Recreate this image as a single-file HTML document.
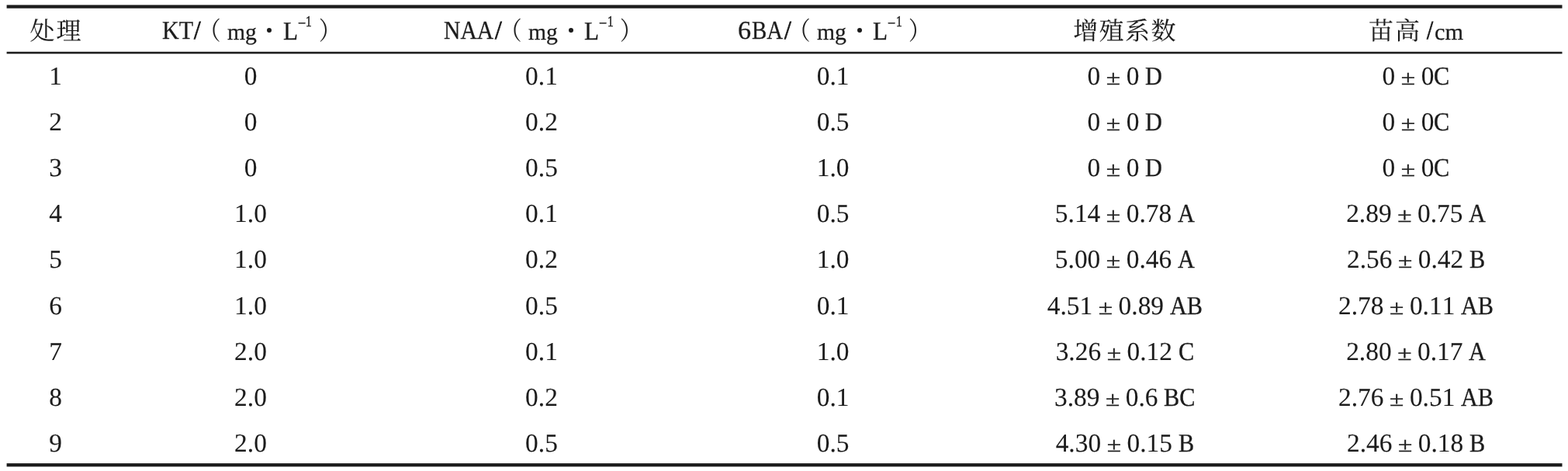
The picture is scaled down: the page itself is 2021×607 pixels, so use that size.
<!DOCTYPE html>
<html lang="zh"><head><meta charset="utf-8"><title>Table</title>
<style>
html,body{margin:0;padding:0;background:#fff;}
body{width:2021px;height:607px;position:relative;overflow:hidden;will-change:transform;font-family:"Liberation Serif",serif;color:#1c1c1c;}
.t{position:absolute;white-space:pre;line-height:40px;font-family:"Liberation Serif",serif;font-kerning:none;font-variant-ligatures:none;text-rendering:geometricPrecision;-webkit-text-stroke:0.3px #1c1c1c;}
.c{font-family:"Liberation Serif","Noto Serif CJK SC",serif;font-size:32px;-webkit-text-stroke-width:0.1px;}
.g{position:absolute;overflow:visible;fill:#1c1c1c;stroke:#1c1c1c;stroke-width:0.3px;}
.g path{vector-effect:non-scaling-stroke;}
.l{position:absolute;}
.pm{display:inline-block;transform:scale(1,0.8);-webkit-text-stroke-width:0.45px;}
</style></head><body>
<svg class="g" style="left:0;top:0;stroke:none" width="2021" height="607" viewBox="0 0 2021 607"><rect x="8.6" y="6.4" width="2004.90" height="4.30"/><rect x="8.6" y="66.7" width="2004.90" height="2.60"/><rect x="8.6" y="597.1" width="2004.90" height="4.30"/></svg>
<span class="t c" style="left:38.50px;top:19.70px;letter-spacing:1.9px;">处理</span>
<span class="t c" style="left:1383.20px;top:20.00px;letter-spacing:1.4px;">增殖系数</span>
<span class="t c" style="left:1764.00px;top:20.20px;letter-spacing:2px;">苗高</span>
<span class="t" style="left:1839.30px;top:20.00px;font-size:33.4px;transform:scale(0.8729,1.0000);transform-origin:0 30px;-webkit-text-stroke-width:0.9px;">/</span>
<span class="t" style="left:1848.85px;top:21.00px;font-size:33.4px;transform:scale(0.9075,0.8850);transform-origin:0 30px;">cm</span>
<span class="t" style="left:209.43px;top:20.00px;font-size:33.4px;transform:scale(0.8999,1.0000);transform-origin:0 30px;">KT</span>
<span class="t" style="left:250.00px;top:20.00px;font-size:33.4px;transform:scale(0.9268,1.0000);transform-origin:0 30px;-webkit-text-stroke-width:0.9px;">/</span>
<span class="t c" style="left:255.50px;top:19.80px;transform:scale(0.89,1);transform-origin:0 30px;">（</span>
<span class="t" style="left:292.58px;top:21.00px;font-size:33.4px;transform:scale(0.8877,0.8850);transform-origin:0 30px;">mg</span>
<div class="l" style="left:344.00px;top:36.20px;width:6.2px;height:6.2px;border-radius:50%;background:#1c1c1c"></div>
<span class="t" style="left:364.60px;top:21.00px;font-size:33.4px;transform:scale(0.9350,1.0000);transform-origin:0 30px;">L</span>
<span class="t" style="left:383.80px;top:11.00px;font-size:19px;transform:scale(0.9501,1.0000);transform-origin:0 25px;-webkit-text-stroke-width:0.5px;">−</span>
<span class="t" style="left:394.27px;top:9.00px;font-size:19.6px;transform:scale(0.7800,1.0000);transform-origin:0 25px;-webkit-text-stroke-width:0.5px;">1</span>
<span class="t c" style="left:410.90px;top:20.20px;transform:scale(0.89,1);transform-origin:0 30px;">）</span>
<span class="t" style="left:572.25px;top:20.00px;font-size:33.4px;transform:scale(0.8868,1.0000);transform-origin:0 30px;">NAA</span>
<span class="t" style="left:638.30px;top:20.00px;font-size:33.4px;transform:scale(0.9375,1.0000);transform-origin:0 30px;-webkit-text-stroke-width:0.9px;">/</span>
<span class="t c" style="left:644.00px;top:19.80px;transform:scale(0.89,1);transform-origin:0 30px;">（</span>
<span class="t" style="left:681.08px;top:21.00px;font-size:33.4px;transform:scale(0.8877,0.8850);transform-origin:0 30px;">mg</span>
<div class="l" style="left:732.50px;top:36.20px;width:6.2px;height:6.2px;border-radius:50%;background:#1c1c1c"></div>
<span class="t" style="left:753.10px;top:21.00px;font-size:33.4px;transform:scale(0.9350,1.0000);transform-origin:0 30px;">L</span>
<span class="t" style="left:772.30px;top:11.00px;font-size:19px;transform:scale(0.9501,1.0000);transform-origin:0 25px;-webkit-text-stroke-width:0.5px;">−</span>
<span class="t" style="left:782.77px;top:9.00px;font-size:19.6px;transform:scale(0.7800,1.0000);transform-origin:0 25px;-webkit-text-stroke-width:0.5px;">1</span>
<span class="t c" style="left:799.40px;top:20.20px;transform:scale(0.89,1);transform-origin:0 30px;">）</span>
<span class="t" style="left:950.83px;top:20.00px;font-size:33.4px;transform:scale(1.0231,1.0000);transform-origin:0 30px;">6</span>
<span class="t" style="left:968.57px;top:20.00px;font-size:33.4px;transform:scale(0.8652,1.0000);transform-origin:0 30px;">BA</span>
<span class="t" style="left:1010.50px;top:20.00px;font-size:33.4px;transform:scale(0.9375,1.0000);transform-origin:0 30px;-webkit-text-stroke-width:0.9px;">/</span>
<span class="t c" style="left:1016.00px;top:19.80px;transform:scale(0.89,1);transform-origin:0 30px;">（</span>
<span class="t" style="left:1053.08px;top:21.00px;font-size:33.4px;transform:scale(0.8877,0.8850);transform-origin:0 30px;">mg</span>
<div class="l" style="left:1104.50px;top:36.20px;width:6.2px;height:6.2px;border-radius:50%;background:#1c1c1c"></div>
<span class="t" style="left:1125.10px;top:21.00px;font-size:33.4px;transform:scale(0.9350,1.0000);transform-origin:0 30px;">L</span>
<span class="t" style="left:1144.30px;top:11.00px;font-size:19px;transform:scale(0.9501,1.0000);transform-origin:0 25px;-webkit-text-stroke-width:0.5px;">−</span>
<span class="t" style="left:1154.77px;top:9.00px;font-size:19.6px;transform:scale(0.7800,1.0000);transform-origin:0 25px;-webkit-text-stroke-width:0.5px;">1</span>
<span class="t c" style="left:1171.40px;top:20.20px;transform:scale(0.89,1);transform-origin:0 30px;">）</span>
<span class="t" style="left:63.35px;top:79.00px;font-size:33.4px;-webkit-text-stroke-width:0.1px;">1</span>
<span class="t" style="left:314.65px;top:79.00px;font-size:33.4px;-webkit-text-stroke-width:0.1px;">0</span>
<span class="t" style="left:677.12px;top:79.00px;font-size:33.4px;-webkit-text-stroke-width:0.1px;">0.1</span>
<span class="t" style="left:1052.72px;top:79.00px;font-size:33.4px;-webkit-text-stroke-width:0.1px;">0.1</span>
<span class="t" style="left:1401.60px;top:79.00px;font-size:33.4px;word-spacing:-0.800px;-webkit-text-stroke-width:0.1px;">0 <span class="pm" style="transform-origin:50% 30px">±</span> 0 </span>
<span class="t" style="left:1475.98px;top:79.00px;font-size:33.4px;transform:scale(0.9050,1.0000);transform-origin:0 30px;-webkit-text-stroke-width:0.35px;">D</span>
<span class="t" style="left:1781.50px;top:79.00px;font-size:33.4px;word-spacing:-0.800px;-webkit-text-stroke-width:0.1px;">0 <span class="pm" style="transform-origin:50% 30px">±</span> 0</span>
<span class="t" style="left:1848.33px;top:79.00px;font-size:33.4px;transform:scale(0.9050,1.0000);transform-origin:0 30px;-webkit-text-stroke-width:0.35px;">C</span>
<span class="t" style="left:63.35px;top:138.00px;font-size:33.4px;-webkit-text-stroke-width:0.1px;">2</span>
<span class="t" style="left:314.65px;top:138.00px;font-size:33.4px;-webkit-text-stroke-width:0.1px;">0</span>
<span class="t" style="left:677.12px;top:138.00px;font-size:33.4px;-webkit-text-stroke-width:0.1px;">0.2</span>
<span class="t" style="left:1052.72px;top:138.00px;font-size:33.4px;-webkit-text-stroke-width:0.1px;">0.5</span>
<span class="t" style="left:1401.60px;top:138.00px;font-size:33.4px;word-spacing:-0.800px;-webkit-text-stroke-width:0.1px;">0 <span class="pm" style="transform-origin:50% 30px">±</span> 0 </span>
<span class="t" style="left:1475.98px;top:138.00px;font-size:33.4px;transform:scale(0.9050,1.0000);transform-origin:0 30px;-webkit-text-stroke-width:0.35px;">D</span>
<span class="t" style="left:1781.50px;top:138.00px;font-size:33.4px;word-spacing:-0.800px;-webkit-text-stroke-width:0.1px;">0 <span class="pm" style="transform-origin:50% 30px">±</span> 0</span>
<span class="t" style="left:1848.33px;top:138.00px;font-size:33.4px;transform:scale(0.9050,1.0000);transform-origin:0 30px;-webkit-text-stroke-width:0.35px;">C</span>
<span class="t" style="left:63.35px;top:197.00px;font-size:33.4px;-webkit-text-stroke-width:0.1px;">3</span>
<span class="t" style="left:314.65px;top:197.00px;font-size:33.4px;-webkit-text-stroke-width:0.1px;">0</span>
<span class="t" style="left:677.12px;top:197.00px;font-size:33.4px;-webkit-text-stroke-width:0.1px;">0.5</span>
<span class="t" style="left:1052.72px;top:197.00px;font-size:33.4px;-webkit-text-stroke-width:0.1px;">1.0</span>
<span class="t" style="left:1401.60px;top:197.00px;font-size:33.4px;word-spacing:-0.800px;-webkit-text-stroke-width:0.1px;">0 <span class="pm" style="transform-origin:50% 30px">±</span> 0 </span>
<span class="t" style="left:1475.98px;top:197.00px;font-size:33.4px;transform:scale(0.9050,1.0000);transform-origin:0 30px;-webkit-text-stroke-width:0.35px;">D</span>
<span class="t" style="left:1781.50px;top:197.00px;font-size:33.4px;word-spacing:-0.800px;-webkit-text-stroke-width:0.1px;">0 <span class="pm" style="transform-origin:50% 30px">±</span> 0</span>
<span class="t" style="left:1848.33px;top:197.00px;font-size:33.4px;transform:scale(0.9050,1.0000);transform-origin:0 30px;-webkit-text-stroke-width:0.35px;">C</span>
<span class="t" style="left:63.35px;top:256.00px;font-size:33.4px;-webkit-text-stroke-width:0.1px;">4</span>
<span class="t" style="left:302.12px;top:256.00px;font-size:33.4px;-webkit-text-stroke-width:0.1px;">1.0</span>
<span class="t" style="left:677.12px;top:256.00px;font-size:33.4px;-webkit-text-stroke-width:0.1px;">0.1</span>
<span class="t" style="left:1052.72px;top:256.00px;font-size:33.4px;-webkit-text-stroke-width:0.1px;">0.5</span>
<span class="t" style="left:1359.85px;top:256.00px;font-size:33.4px;word-spacing:-0.800px;-webkit-text-stroke-width:0.1px;">5.14 <span class="pm" style="transform-origin:50% 30px">±</span> 0.78 </span>
<span class="t" style="left:1517.73px;top:256.00px;font-size:33.4px;transform:scale(0.9050,1.0000);transform-origin:0 30px;-webkit-text-stroke-width:0.35px;">A</span>
<span class="t" style="left:1735.15px;top:256.00px;font-size:33.4px;word-spacing:-0.800px;-webkit-text-stroke-width:0.1px;">2.89 <span class="pm" style="transform-origin:50% 30px">±</span> 0.75 </span>
<span class="t" style="left:1893.03px;top:256.00px;font-size:33.4px;transform:scale(0.9050,1.0000);transform-origin:0 30px;-webkit-text-stroke-width:0.35px;">A</span>
<span class="t" style="left:63.35px;top:315.00px;font-size:33.4px;-webkit-text-stroke-width:0.1px;">5</span>
<span class="t" style="left:302.12px;top:315.00px;font-size:33.4px;-webkit-text-stroke-width:0.1px;">1.0</span>
<span class="t" style="left:677.12px;top:315.00px;font-size:33.4px;-webkit-text-stroke-width:0.1px;">0.2</span>
<span class="t" style="left:1052.72px;top:315.00px;font-size:33.4px;-webkit-text-stroke-width:0.1px;">1.0</span>
<span class="t" style="left:1359.85px;top:315.00px;font-size:33.4px;word-spacing:-0.800px;-webkit-text-stroke-width:0.1px;">5.00 <span class="pm" style="transform-origin:50% 30px">±</span> 0.46 </span>
<span class="t" style="left:1517.73px;top:315.00px;font-size:33.4px;transform:scale(0.9050,1.0000);transform-origin:0 30px;-webkit-text-stroke-width:0.35px;">A</span>
<span class="t" style="left:1735.98px;top:315.00px;font-size:33.4px;word-spacing:-0.800px;-webkit-text-stroke-width:0.1px;">2.56 <span class="pm" style="transform-origin:50% 30px">±</span> 0.42 </span>
<span class="t" style="left:1893.86px;top:315.00px;font-size:33.4px;transform:scale(0.9050,1.0000);transform-origin:0 30px;-webkit-text-stroke-width:0.35px;">B</span>
<span class="t" style="left:63.35px;top:375.00px;font-size:33.4px;-webkit-text-stroke-width:0.1px;">6</span>
<span class="t" style="left:302.12px;top:375.00px;font-size:33.4px;-webkit-text-stroke-width:0.1px;">1.0</span>
<span class="t" style="left:677.12px;top:375.00px;font-size:33.4px;-webkit-text-stroke-width:0.1px;">0.5</span>
<span class="t" style="left:1052.72px;top:375.00px;font-size:33.4px;-webkit-text-stroke-width:0.1px;">0.1</span>
<span class="t" style="left:1349.76px;top:375.00px;font-size:33.4px;word-spacing:-0.800px;-webkit-text-stroke-width:0.1px;">4.51 <span class="pm" style="transform-origin:50% 30px">±</span> 0.89 </span>
<span class="t" style="left:1507.65px;top:375.00px;font-size:33.4px;transform:scale(0.9050,1.0000);transform-origin:0 30px;-webkit-text-stroke-width:0.35px;">AB</span>
<span class="t" style="left:1725.06px;top:375.00px;font-size:33.4px;word-spacing:-0.800px;-webkit-text-stroke-width:0.1px;">2.78 <span class="pm" style="transform-origin:50% 30px">±</span> 0.11 </span>
<span class="t" style="left:1882.95px;top:375.00px;font-size:33.4px;transform:scale(0.9050,1.0000);transform-origin:0 30px;-webkit-text-stroke-width:0.35px;">AB</span>
<span class="t" style="left:63.35px;top:434.00px;font-size:33.4px;-webkit-text-stroke-width:0.1px;">7</span>
<span class="t" style="left:302.12px;top:434.00px;font-size:33.4px;-webkit-text-stroke-width:0.1px;">2.0</span>
<span class="t" style="left:677.12px;top:434.00px;font-size:33.4px;-webkit-text-stroke-width:0.1px;">0.1</span>
<span class="t" style="left:1052.72px;top:434.00px;font-size:33.4px;-webkit-text-stroke-width:0.1px;">1.0</span>
<span class="t" style="left:1360.68px;top:434.00px;font-size:33.4px;word-spacing:-0.800px;-webkit-text-stroke-width:0.1px;">3.26 <span class="pm" style="transform-origin:50% 30px">±</span> 0.12 </span>
<span class="t" style="left:1518.56px;top:434.00px;font-size:33.4px;transform:scale(0.9050,1.0000);transform-origin:0 30px;-webkit-text-stroke-width:0.35px;">C</span>
<span class="t" style="left:1735.15px;top:434.00px;font-size:33.4px;word-spacing:-0.800px;-webkit-text-stroke-width:0.1px;">2.80 <span class="pm" style="transform-origin:50% 30px">±</span> 0.17 </span>
<span class="t" style="left:1893.03px;top:434.00px;font-size:33.4px;transform:scale(0.9050,1.0000);transform-origin:0 30px;-webkit-text-stroke-width:0.35px;">A</span>
<span class="t" style="left:63.35px;top:493.00px;font-size:33.4px;-webkit-text-stroke-width:0.1px;">8</span>
<span class="t" style="left:302.12px;top:493.00px;font-size:33.4px;-webkit-text-stroke-width:0.1px;">2.0</span>
<span class="t" style="left:677.12px;top:493.00px;font-size:33.4px;-webkit-text-stroke-width:0.1px;">0.2</span>
<span class="t" style="left:1052.72px;top:493.00px;font-size:33.4px;-webkit-text-stroke-width:0.1px;">0.1</span>
<span class="t" style="left:1358.95px;top:493.00px;font-size:33.4px;word-spacing:-0.800px;-webkit-text-stroke-width:0.1px;">3.89 <span class="pm" style="transform-origin:50% 30px">±</span> 0.6 </span>
<span class="t" style="left:1500.13px;top:493.00px;font-size:33.4px;transform:scale(0.9050,1.0000);transform-origin:0 30px;-webkit-text-stroke-width:0.35px;">BC</span>
<span class="t" style="left:1725.06px;top:493.00px;font-size:33.4px;word-spacing:-0.800px;-webkit-text-stroke-width:0.1px;">2.76 <span class="pm" style="transform-origin:50% 30px">±</span> 0.51 </span>
<span class="t" style="left:1882.95px;top:493.00px;font-size:33.4px;transform:scale(0.9050,1.0000);transform-origin:0 30px;-webkit-text-stroke-width:0.35px;">AB</span>
<span class="t" style="left:63.35px;top:552.00px;font-size:33.4px;-webkit-text-stroke-width:0.1px;">9</span>
<span class="t" style="left:302.12px;top:552.00px;font-size:33.4px;-webkit-text-stroke-width:0.1px;">2.0</span>
<span class="t" style="left:677.12px;top:552.00px;font-size:33.4px;-webkit-text-stroke-width:0.1px;">0.5</span>
<span class="t" style="left:1052.72px;top:552.00px;font-size:33.4px;-webkit-text-stroke-width:0.1px;">0.5</span>
<span class="t" style="left:1360.68px;top:552.00px;font-size:33.4px;word-spacing:-0.800px;-webkit-text-stroke-width:0.1px;">4.30 <span class="pm" style="transform-origin:50% 30px">±</span> 0.15 </span>
<span class="t" style="left:1518.56px;top:552.00px;font-size:33.4px;transform:scale(0.9050,1.0000);transform-origin:0 30px;-webkit-text-stroke-width:0.35px;">B</span>
<span class="t" style="left:1735.98px;top:552.00px;font-size:33.4px;word-spacing:-0.800px;-webkit-text-stroke-width:0.1px;">2.46 <span class="pm" style="transform-origin:50% 30px">±</span> 0.18 </span>
<span class="t" style="left:1893.86px;top:552.00px;font-size:33.4px;transform:scale(0.9050,1.0000);transform-origin:0 30px;-webkit-text-stroke-width:0.35px;">B</span>
</body></html>
